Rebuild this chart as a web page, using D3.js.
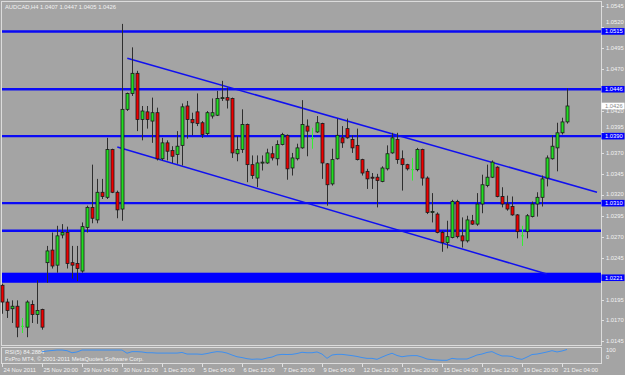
<!DOCTYPE html>
<html><head><meta charset="utf-8">
<script src="https://cdn.jsdelivr.net/npm/d3@7"></script>
<style>body{margin:0;background:#a4a4a4}svg{display:block}</style>
</head><body><svg id="c" width="625" height="375"></svg>
<script>
const title = "AUDCAD,H4  1.0407 1.0447 1.0405 1.0426";
const opens = [1.0212,1.0192,1.0184,1.0187,1.0163,1.0162,1.0189,1.0177,1.0183,1.0239,
1.0254,1.0236,1.0272,1.0275,1.0239,1.0238,1.0229,1.0281,1.0305,1.0290,
1.0323,1.0317,1.0374,1.0323,1.0303,1.0422,1.0441,1.0465,1.0410,1.0419,
1.0408,1.0418,1.0363,1.0382,1.0373,1.0368,1.0379,1.0426,1.0410,1.0419,
1.0406,1.0393,1.0414,1.0415,1.0435,1.0436,1.0435,1.0369,1.0374,1.0404,
1.0356,1.0340,1.0358,1.0358,1.0369,1.0363,1.0380,1.0391,1.0352,1.0363,
1.0376,1.0402,1.0387,1.0395,1.0405,1.0357,1.0333,1.0363,1.0388,1.0399,
1.0386,1.0379,1.0362,1.0348,1.0341,1.0341,1.0336,1.0351,1.0370,1.0386,
1.0363,1.0356,1.0350,1.0350,1.0374,1.0340,1.0299,1.0297,1.0275,1.0263,
1.0269,1.0312,1.0271,1.0265,1.0289,1.0285,1.0309,1.0331,1.0341,1.0353,
1.0318,1.0309,1.0306,1.0296,1.0271,1.0276,1.0294,1.0309,1.0317,1.0340,
1.0363,1.0376,1.0394,1.0407];
const highs = [1.0214,1.0196,1.0194,1.0194,1.0173,1.0194,1.0194,1.0218,1.0184,1.0259,
1.0275,1.0283,1.0285,1.0282,1.0259,1.0259,1.0287,1.0307,1.0356,1.0339,
1.0339,1.0388,1.0375,1.0325,1.0524,1.0442,1.0496,1.0468,1.0426,1.0426,
1.0436,1.0424,1.0388,1.0385,1.0378,1.0396,1.0429,1.0432,1.0418,1.0441,
1.0408,1.0420,1.0435,1.0444,1.0456,1.0448,1.0436,1.0390,1.0422,1.0405,
1.0367,1.0367,1.0367,1.0375,1.0378,1.0385,1.0394,1.0392,1.0370,1.0381,
1.0433,1.0410,1.0400,1.0414,1.0406,1.0358,1.0375,1.0411,1.0402,1.0411,
1.0391,1.0399,1.0363,1.0351,1.0346,1.0345,1.0354,1.0379,1.0394,1.0394,
1.0373,1.0357,1.0364,1.0376,1.0375,1.0342,1.0322,1.0299,1.0277,1.0289,
1.0314,1.0314,1.0293,1.0295,1.0296,1.0322,1.0344,1.0356,1.0361,1.0354,
1.0329,1.0319,1.0318,1.0297,1.0283,1.0297,1.0312,1.0323,1.0343,1.0367,
1.0391,1.0406,1.0412,1.0447];
const lows = [1.0178,1.0173,1.0167,1.0150,1.0155,1.0150,1.0167,1.0166,1.0159,1.0215,
1.0232,1.0227,1.0268,1.0232,1.0220,1.0217,1.0227,1.0275,1.0286,1.0286,
1.0315,1.0315,1.0322,1.0292,1.0289,1.0420,1.0438,1.0396,1.0385,1.0399,
1.0382,1.0361,1.0361,1.0361,1.0358,1.0357,1.0355,1.0387,1.0391,1.0402,
1.0388,1.0391,1.0411,1.0414,1.0432,1.0423,1.0364,1.0360,1.0370,1.0335,
1.0339,1.0329,1.0349,1.0357,1.0361,1.0355,1.0379,1.0338,1.0343,1.0361,
1.0375,1.0366,1.0375,1.0394,1.0339,1.0307,1.0331,1.0362,1.0376,1.0387,
1.0370,1.0361,1.0343,1.0327,1.0327,1.0305,1.0335,1.0349,1.0369,1.0357,
1.0325,1.0349,1.0337,1.0348,1.0331,1.0297,1.0287,1.0274,1.0252,1.0256,
1.0268,1.0268,1.0257,1.0263,1.0284,1.0283,1.0298,1.0329,1.0340,1.0317,
1.0305,1.0301,1.0295,1.0268,1.0259,1.0268,1.0293,1.0294,1.0306,1.0330,
1.0362,1.0348,1.0392,1.0405];
const closes = [1.0192,1.0182,1.0187,1.0162,1.0163,1.0192,1.0177,1.0182,1.0162,1.0253,
1.0235,1.0271,1.0275,1.0238,1.0236,1.0232,1.0282,1.0305,1.0292,1.0323,
1.0318,1.0374,1.0323,1.0302,1.0422,1.0441,1.0465,1.0410,1.0420,1.0410,
1.0418,1.0363,1.0382,1.0372,1.0366,1.0378,1.0425,1.0410,1.0406,1.0405,
1.0392,1.0418,1.0418,1.0435,1.0436,1.0433,1.0370,1.0374,1.0404,1.0356,
1.0343,1.0358,1.0359,1.0370,1.0364,1.0380,1.0392,1.0351,1.0364,1.0376,
1.0404,1.0396,1.0387,1.0406,1.0358,1.0332,1.0362,1.0391,1.0382,1.0388,
1.0376,1.0362,1.0346,1.0339,1.0340,1.0337,1.0352,1.0369,1.0388,1.0362,
1.0356,1.0351,1.0350,1.0374,1.0340,1.0299,1.0300,1.0275,1.0263,1.0270,
1.0312,1.0270,1.0265,1.0290,1.0285,1.0309,1.0332,1.0341,1.0359,1.0318,
1.0309,1.0303,1.0296,1.0276,1.0271,1.0295,1.0309,1.0317,1.0339,1.0364,
1.0378,1.0394,1.0407,1.0426];
const rsiStart = 8;
const rsiValues = [70,75,78,81,81,77,64,69,81,81,
81,81,81,81,81,81,81,61,71,71,
69,64,64,62,62,62,62,62,66,56,
56,56,54,59,66,71,69,62,50,39,
34,27,23,25,23,31,37,50,54,53,
54,59,67,64,64,69,56,29,50,54,
54,50,46,41,34,29,29,23,37,50,
61,47,39,44,46,46,37,25,21,19,
17,17,29,25,25,25,37,50,56,66,
71,56,44,44,41,28,23,37,53,56,
62,69,77,69,75,84.2884];
const timeLabels = ["24 Nov 2011","25 Nov 20:00","29 Nov 04:00","30 Nov 12:00","1 Dec 20:00","5 Dec 04:00","6 Dec 12:00","7 Dec 20:00","9 Dec 04:00","12 Dec 12:00","13 Dec 20:00","15 Dec 04:00","16 Dec 12:00","19 Dec 20:00","21 Dec 04:00"];
const labelEvery = 8;
const priceTicks = [1.0545,1.0520,1.0495,1.0470,1.0445,1.0420,1.0395,1.0370,1.0345,1.0320,1.0295,1.0270,1.0245,1.0220,1.0195,1.0170,1.0145];
const levelLines = [1.0515,1.0446,1.0390,1.0310];
const plainLines = [1.0277];
const bandLevel = 1.0221, bandLo = 1.0215, bandHi = 1.0227;
const channelUpper = [[25.06,1.0483],[119,1.0323]];
const channelLower = [[23.06,1.0377],[108.94,1.02255]];
const bidPrice = 1.0426;
const rsiLabel = "RSI(5) 84.2884";
const copyright = "FxPro MT4, \u00a9 2001-2011 MetaQuotes Software Corp.";

const svg = d3.select("#c");
const FONT = "Liberation Sans, Arial, sans-serif";
const FS = 5.8;
const x = d3.scaleLinear().domain([0,113]).range([2,567]);
const y = d3.scaleLinear().domain([1.0545,1.0145]).range([6.3,341.4]);
const yr = d3.scaleLinear().domain([0,100]).range([363,347]);

svg.append("rect").attr("width",625).attr("height",375).attr("fill","#a4a4a4");

// frame
const frame = svg.append("g").attr("stroke","#dcdcdc").attr("stroke-width",1).attr("fill","none");
frame.append("rect").attr("x",1.5).attr("y",1.5).attr("width",600).attr("height",344);
frame.append("rect").attr("x",1.5).attr("y",347.5).attr("width",600).attr("height",16);

// band
svg.append("rect").attr("x",2).attr("width",599).attr("y",y(bandHi)).attr("height",y(bandLo)-y(bandHi)).attr("fill","#0000ff");
// level lines
svg.selectAll(".lvl").data(levelLines.concat(plainLines)).join("line")
  .attr("x1",2).attr("x2",601).attr("y1",d=>y(d)).attr("y2",d=>y(d))
  .attr("stroke","#0a0af5").attr("stroke-width",2.4);
// channel
[channelUpper, channelLower].forEach(c=>{
  svg.append("line").attr("x1",x(c[0][0])).attr("y1",y(c[0][1])).attr("x2",x(c[1][0])).attr("y2",y(c[1][1]))
   .attr("stroke","#1010f0").attr("stroke-width",1.5);
});

// candles
const data = opens.map((o,i)=>({i,o,h:highs[i],l:lows[i],c:closes[i]}));
const g = svg.append("g");
data.forEach(d=>{
  const cx = Math.round(x(d.i))+0.5;
  const doji = d.o===d.c;
  const up = d.c>d.o;
  g.append("line").attr("x1",cx).attr("x2",cx).attr("y1",y(d.h)).attr("y2",y(d.l))
    .attr("stroke",doji?"#33ee33":"#2e2e2e").attr("stroke-width",1);
  if(doji){
    g.append("line").attr("x1",cx-1.5).attr("x2",cx+1.5).attr("y1",y(d.o)).attr("y2",y(d.o)).attr("stroke","#33ee33");
  } else {
    const top = y(Math.max(d.o,d.c)), bot = y(Math.min(d.o,d.c));
    g.append("rect").attr("x",cx-1.5).attr("width",3).attr("y",top).attr("height",Math.max(1,bot-top))
      .attr("fill",up?"#22dd22":"#ee0000").attr("stroke","#1a1a1a").attr("stroke-width",0.8);
  }
});

// price axis labels
const ax = svg.append("g").attr("font-family",FONT).attr("font-size",FS).attr("fill","#f2f2f2");
const boxLevels = levelLines.concat([bandLevel, bidPrice]);
priceTicks.forEach(p=>{
  const ty = y(p);
  ax.append("line").attr("x1",601).attr("x2",604).attr("y1",Math.round(ty)+0.5).attr("y2",Math.round(ty)+0.5).attr("stroke","#e0e0e0");
  // nudge a tick label upward when a level box sits just below it
  let ly = ty;
  boxLevels.forEach(b=>{
    const by = y(b);
    if (by > ty + 1.5 && by - ty < 9.6) ly = Math.min(ly, by - 9.6);
  });
  ax.append("text").attr("x",606).attr("y",ly).attr("dy","0.35em").text(p.toFixed(4));
});
// level label boxes
levelLines.concat([bandLevel]).forEach(p=>{
  ax.append("rect").attr("x",601.5).attr("y",y(p)-3.3).attr("width",23).attr("height",6.6).attr("fill","#0000ff");
  ax.append("text").attr("x",605).attr("y",y(p)).attr("dy","0.35em").attr("fill","#ffffff").text(p.toFixed(4));
});
// bid box
ax.append("rect").attr("x",601.5).attr("y",y(bidPrice)-3.3).attr("width",23).attr("height",6.6).attr("fill","#ffffff");
ax.append("text").attr("x",605).attr("y",y(bidPrice)).attr("dy","0.35em").attr("fill","#8a8a8a").text(bidPrice.toFixed(4));

// RSI
const rsiData = rsiValues.map((v,k)=>({i:k+rsiStart,v}));
svg.append("path").datum(rsiData).attr("fill","none").attr("stroke","#3d8ff0").attr("stroke-width",1)
  .attr("d",d3.line().x(d=>x(d.i)).y(d=>yr(d.v)));
ax.append("text").attr("x",606).attr("y",yr(80)).attr("dy","0.35em").text("100");
ax.append("text").attr("x",606).attr("y",yr(40)).attr("dy","0.35em").text("0");

// time axis
timeLabels.forEach((t,k)=>{
  const tx = Math.round(x(k*labelEvery))+0.5;
  ax.append("line").attr("x1",tx).attr("x2",tx).attr("y1",364).attr("y2",367).attr("stroke","#e0e0e0");
  ax.append("text").attr("x",tx+1).attr("y",372).text(t);
});

// titles
ax.append("text").attr("x",5).attr("y",8.5).text(title);
ax.append("text").attr("x",5).attr("y",354).text(rsiLabel);
ax.append("text").attr("x",5).attr("y",361).text(copyright);
</script></body></html>
